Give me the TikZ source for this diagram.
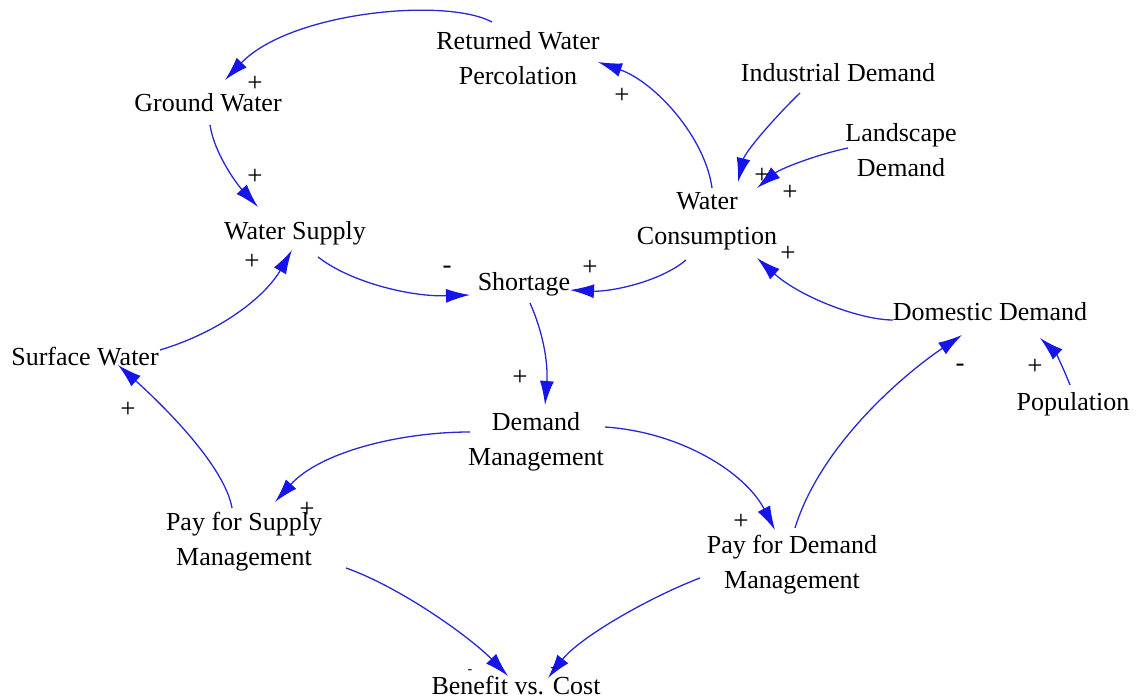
\documentclass[tikz,border=0pt]{standalone}
\usepackage{fontspec}
\setmainfont{Liberation Serif}
\usetikzlibrary{arrows.meta,calc}
\definecolor{arrblue}{RGB}{40,40,215}
\definecolor{tipblue}{RGB}{20,20,235}
\begin{document}
\begin{tikzpicture}[x=1pt,y=1pt,
  var/.style={inner sep=0pt,align=center,font=\fontsize{26}{35}\selectfont},
  pol/.style={inner sep=0pt,font=\fontsize{27}{27}\selectfont},
  spol/.style={inner sep=0pt,font=\fontsize{14}{14}\selectfont},
  link/.style={draw=arrblue,line width=1.3pt,-{Latex[length=24pt,width=14pt,color=tipblue,fill=tipblue]}}]
\useasboundingbox[fill=white] (0,0) rectangle (1136,697);
% variables
\node[var] (rw)   at (518,639) {Returned Water\\Percolation};
\node[var] (gw)   at (208,594) {Ground Water};
\node[var] (ind)  at (838,624) {Industrial Demand};
\node[var] (land) at (901,547) {Landscape\\Demand};
\node[var] (wc)   at (707,476) {Water\\Consumption};
\node[var] (ws)   at (295,464) {Water Supply};
\node[var] (sh)   at (524,413) {Shortage};
\node[var] (sw)   at (85,340)  {Surface Water};
\node[var] (dd)   at (990,385) {Domestic Demand};
\node[var] (pop)  at (1073,293) {Population};
\node[var] (dm)   at (536,255) {Demand\\Management};
\node[var] (psm)  at (244,155) {Pay for Supply\\Management};
\node[var] (pdm)  at (792,132) {Pay for Demand\\Management};
\node[var] (bc)   at (516,11)  {Benefit vs. Cost};
% links
\draw[link] ($(rw)+(-26,36)$) .. controls (445,700) and (290,685) .. ($(gw)+(17,23)$);
\draw[link] ($(gw)+(2,-22)$) .. controls (214,545) and (235,515) .. ($(ws)+(-37,26)$);
\draw[link] ($(wc)+(5,33)$) .. controls (705,560) and (655,615) .. ($(rw)+(80,-4)$);
\draw[link] ($(ind)+(-38,-20)$) .. controls (775,580) and (745,545) .. ($(wc)+(31,39)$);
\draw[link] ($(land)+(-53,2)$) .. controls (815,542) and (780,528) .. ($(wc)+(50,33)$);
\draw[link] ($(dd)+(-97,-8)$) .. controls (860,377) and (800,400) .. ($(wc)+(50,-37)$);
\draw[link] ($(wc)+(-21,-39)$) .. controls (660,415) and (610,405) .. ($(sh)+(46,-6)$);
\draw[link] ($(ws)+(23,-24)$) .. controls (350,415) and (410,400) .. ($(sh)+(-54,-11)$);
\draw[link] ($(sw)+(75,7)$) .. controls (220,365) and (265,400) .. ($(ws)+(-3,-17)$);
\draw[link] ($(psm)+(-12,34)$) .. controls (225,230) and (165,290) .. ($(sw)+(33,-8)$);
\draw[link] ($(sh)+(6,-19)$) .. controls (545,360) and (548,330) .. ($(dm)+(9,37)$);
\draw[link] ($(dm)+(-66,10)$) .. controls (400,265) and (320,245) .. ($(psm)+(31,40)$);
\draw[link] ($(dm)+(69,15)$) .. controls (680,265) and (745,225) .. ($(pdm)+(-17,35)$);
\draw[link] ($(pdm)+(3,37)$) .. controls (820,250) and (900,320) .. ($(dd)+(-28,-23)$);
\draw[link] ($(pop)+(-3,19)$) .. controls (1063,330) and (1055,345) .. ($(dd)+(50,-26)$);
\draw[link] ($(psm)+(102,-26)$) .. controls (400,110) and (470,60) .. ($(bc)+(-8,10)$);
\draw[link] ($(pdm)+(-92,-13)$) .. controls (650,100) and (580,60) .. ($(bc)+(32,8)$);
% polarities
\node[pol] (p1)  at (255,613) {+};
\node[pol] (p2)  at (255,520) {+};
\node[pol] (p3)  at (622,601) {+};
\node[pol] (p4)  at (762,521) {+};
\node[pol] (p5)  at (790,504) {+};
\node[pol] (p6)  at (788,443) {+};
\node[pol] (p7)  at (590,429) {+};
\node[pol] (p8)  at (447,427) {-};
\node[pol] (p9)  at (252,435) {+};
\node[pol] (p10) at (128,287) {+};
\node[pol] (p11) at (520,319) {+};
\node[pol] (p12) at (307,187) {+};
\node[pol] (p13) at (741,175) {+};
\node[pol] (p14) at (960,329) {-};
\node[pol] (p15) at (1035,330) {+};
\node[spol] (p16) at (470,25) {-};
\node[spol] (p17) at (553,27) {-};
\end{tikzpicture}
\end{document}
